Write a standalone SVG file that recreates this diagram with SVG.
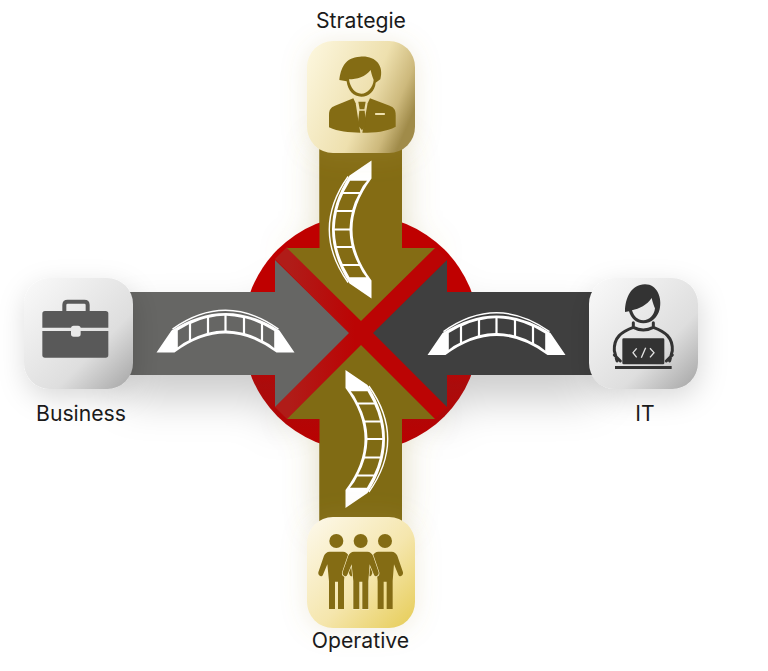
<svg xmlns="http://www.w3.org/2000/svg" xmlns:xlink="http://www.w3.org/1999/xlink" width="768" height="671" viewBox="0 0 768 671">
<style>
.lbl{font-family:"Inter","Noto Sans","Liberation Sans",sans-serif;font-size:21.2px;fill:#1a1a1a;text-anchor:middle}
.gold{fill:#846c14}
.br{fill:#fff;fill-rule:evenodd}
</style>
<defs>
<linearGradient id="cardTop" x1="0" y1="0.15" x2="1" y2="0.6"><stop offset="0" stop-color="#fcf6dc"/><stop offset="0.6" stop-color="#eee0ae"/><stop offset="0.85" stop-color="#cdb97c"/><stop offset="1" stop-color="#a08b4a"/></linearGradient>
<linearGradient id="cardBot" x1="0" y1="0" x2="1" y2="1"><stop offset="0" stop-color="#fdf9ec"/><stop offset="0.55" stop-color="#f5e6ad"/><stop offset="1" stop-color="#e6cc55"/></linearGradient>
<linearGradient id="cardGrey" x1="0" y1="0" x2="1" y2="1"><stop offset="0" stop-color="#fafafa"/><stop offset="0.65" stop-color="#dedede"/><stop offset="1" stop-color="#a4a4a4"/></linearGradient>
<linearGradient id="xg" gradientUnits="userSpaceOnUse" x1="290" y1="0" x2="355" y2="0"><stop offset="0" stop-color="#b01c18"/><stop offset="1" stop-color="#bb0404"/></linearGradient>
<linearGradient id="disc" x1="0" y1="0" x2="0" y2="1"><stop offset="0.6" stop-color="#bf0000"/><stop offset="0.72" stop-color="#aa0c0c"/><stop offset="1" stop-color="#bb0000"/></linearGradient>
<filter id="sGrey" x="-30%" y="-60%" width="160%" height="260%"><feDropShadow dx="0" dy="24" stdDeviation="20" flood-color="#000" flood-opacity="0.2"/></filter>
<filter id="sGold" x="-60%" y="-20%" width="220%" height="140%"><feDropShadow dx="0" dy="0" stdDeviation="17" flood-color="#a8964c" flood-opacity="0.38"/></filter>
<filter id="sCard" x="-50%" y="-50%" width="200%" height="200%"><feDropShadow dx="2" dy="9" stdDeviation="14" flood-color="#000" flood-opacity="0.15"/></filter>
<filter id="sCardG" x="-50%" y="-50%" width="200%" height="200%"><feDropShadow dx="0" dy="2" stdDeviation="13" flood-color="#b5a25a" flood-opacity="0.2"/></filter>
<path id="armT" d="M319.5,145 H402 V248 H435 L361,321 L287,248 H319.5 Z"/>
<path id="armB" d="M319.5,525 H402 V419 H435 L361,345 L287,419 H319.5 Z"/>
<path id="armL" d="M125,292 H275 V260 L349,333 L275,407 V375 H125 Z"/>
<path id="armR" d="M597,292 H447 V260 L373,333 L447,407 V375 H597 Z"/>
<g id="bridge">
<path d="M16,19.6 Q69,-18 122,19.6" fill="none" stroke="#fff" stroke-width="1.4"/>
<path class="br" d="M0,43 L15,21 Q69,-14 123,21 L138,43 L120,43 Q69,5 18,43 Z
M21.3,37.8 L21.3,21 L32.4,14.8 L32.4,30.8 Q26,33.5 21.3,37.8 Z
M34.6,29.8 L34.6,14.2 Q42,10.6 50.4,8.6 L50.4,23.5 Q42,25.8 34.6,29.8 Z
M52.6,23 L52.6,8.2 Q60,6.5 67.9,6.3 L67.9,21 Q60,21.2 52.6,23 Z
M70.1,21 L70.1,6.3 Q78,6.5 86.4,8.4 L86.4,23.3 Q78,21.2 70.1,21 Z
M88.6,23.7 L88.6,8.8 Q97,10.8 104.4,14.6 L104.4,30.3 Q97,26 88.6,23.7 Z
M106.6,31.2 L106.6,15.3 L117.7,21.6 L117.7,38.5 Q113,34 106.6,31.2 Z"/>
</g>
<g id="fig">
<circle cx="0" cy="48" r="21"/>
<path d="M-20,80 L20,80 C28,80 34,85 37,92 L54,142 C56,153 44,158 40,149 L27,118 L23,168 L23,252 L5,252 L5,170 L-4,170 L-4,252 L-22,252 L-22,168 L-27,118 L-40,149 C-44,158 -56,153 -54,142 L-37,92 C-34,85 -28,80 -20,80 Z"/>
</g>
</defs>

<g id="shadows">
<use xlink:href="#armT" href="#armT" fill="#846c14" filter="url(#sGold)"/>
<use xlink:href="#armB" href="#armB" fill="#846c14" filter="url(#sGold)"/>
<use xlink:href="#armL" href="#armL" fill="#666664" filter="url(#sGrey)"/>
<use xlink:href="#armR" href="#armR" fill="#3f3f3f" filter="url(#sGrey)"/>
</g>

<g id="crossing">
<circle cx="361" cy="333" r="118" fill="url(#disc)"/>
<path d="M281,253 L441,413 M281,413 L441,253" stroke="url(#xg)" stroke-width="17" fill="none"/>
</g>

<g id="connectors">
<use xlink:href="#armT" href="#armT" fill="#846c14"/>
<use xlink:href="#armB" href="#armB" fill="#806b14"/>
<use xlink:href="#armL" href="#armL" fill="#666664"/>
<use xlink:href="#armR" href="#armR" fill="#3f3f3f"/>
<use xlink:href="#bridge" href="#bridge" transform="translate(156.5,309.5)"/>
<use xlink:href="#bridge" href="#bridge" transform="translate(427.5,312)"/>
<use xlink:href="#bridge" href="#bridge" transform="translate(328.5,298.5) rotate(-90)"/>
<use xlink:href="#bridge" href="#bridge" transform="translate(388.5,370) rotate(90)"/>
</g>

<g id="node-strategie">
<rect x="307" y="41" width="108" height="112" rx="26" fill="url(#cardTop)" filter="url(#sCardG)"/>
<g class="gold" transform="translate(325,50) scale(0.3333)">
<path fill-rule="evenodd" d="M43,90 C47,55 60,22 105,20 C150,16 178,45 166,88 L152,98 C150,122 132,140 109,140 C86,140 68,122 65,94 Z M72,88 C95,88 122,80 137,60 C139,72 143,82 146,90 C144,112 128,131 109,131 C90,131 75,112 72,88 Z"/>
<path d="M12,232 L12,195 C12,178 18,172 30,167 L85,145 L92,160 L106,248 C70,248 40,245 12,232 Z"/>
<path d="M212,230 L212,195 C212,178 206,172 194,167 L135,145 L128,160 L112,248 C150,248 185,245 212,230 Z"/>
<path d="M100,155 H122 L118,178 H104 Z M103,182 H119 L123,225 L111,241 L98,225 Z"/>
<rect x="150" y="189" width="30" height="6" rx="2" fill="#eee0ae"/>
</g>
<text class="lbl" x="361" y="28">Strategie</text>
</g>

<g id="node-business">
<rect x="24" y="278" width="109" height="111" rx="26" fill="url(#cardGrey)" filter="url(#sCard)"/>
<g transform="translate(35,295) scale(0.3333)" fill="#595959">
<path d="M88,50 V30 Q88,20 98,20 H148 Q158,20 158,30 V50" fill="none" stroke="#595959" stroke-width="12"/>
<path d="M30,48 H212 Q220,48 220,56 V98 H22 V56 Q22,48 30,48 Z"/>
<path d="M22,108 H220 V180 Q220,188 212,188 H30 Q22,188 22,180 Z"/>
<rect x="108" y="92" width="29" height="33" rx="8" fill="#e9e9e9"/>
</g>
<text class="lbl" x="81" y="421">Business</text>
</g>

<g id="node-it">
<rect x="589" y="278" width="109" height="111" rx="26" fill="url(#cardGrey)" filter="url(#sCard)"/>
<g transform="translate(605,280) scale(0.3333)" fill="#333">
<path fill-rule="evenodd" d="M60,96 C60,55 78,13 120,13 C157,13 172,55 164,88 C158,112 140,130 115,130 C92,130 78,114 72,94 Z M81,91 C103,86 126,75 140,54 C143,68 147,78 150,85 C148,105 133,121 115,121 C98,121 86,108 81,91 Z"/>
<path d="M36,243 L28,212 C26,172 50,155 85,142 L85,128 M145,128 V142 C180,155 204,172 202,212 L194,243 M85,142 Q115,158 145,142 M28,225 L46,243 M202,225 L184,243" fill="none" stroke="#333" stroke-width="9" stroke-linecap="round"/>
<rect x="52" y="175" width="126" height="78" rx="4"/>
<rect x="30" y="258" width="170" height="9"/>
<path d="M95,205 L84,218 L95,232 M135,205 L147,218 L135,232 M122,203 L109,233" fill="none" stroke="#e2e2e2" stroke-width="4"/>
</g>
<text class="lbl" x="645" y="421">IT</text>
</g>

<g id="node-operative">
<rect x="307" y="517" width="108" height="111" rx="26" fill="url(#cardBot)" filter="url(#sCardG)"/>
<g class="gold" transform="translate(315,525) scale(0.3333)">
<use xlink:href="#fig" href="#fig" x="64"/>
<use xlink:href="#fig" href="#fig" x="210"/>
<use xlink:href="#fig" href="#fig" x="137" stroke="#f7ecc0" stroke-width="4" paint-order="stroke"/>
</g>
<text class="lbl" x="360.5" y="648">Operative</text>
</g>
</svg>
